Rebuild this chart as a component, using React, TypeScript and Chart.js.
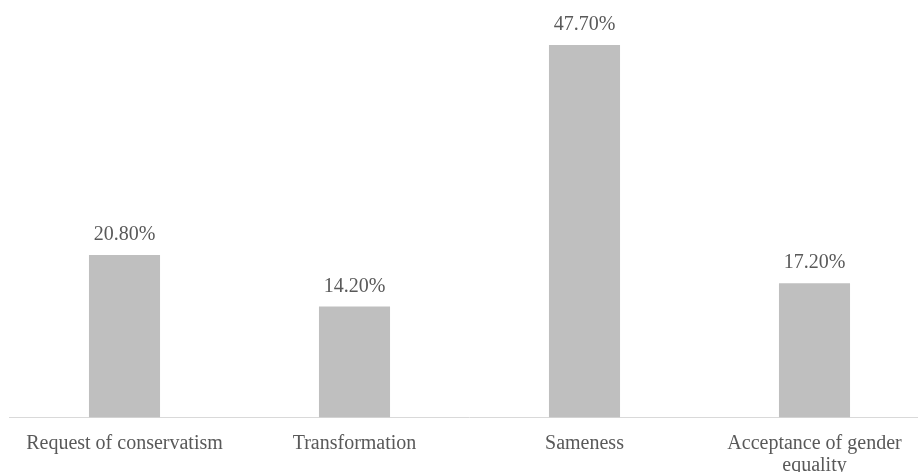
import React, { useEffect, useRef } from "react";
import { Chart, registerables } from "chart.js";

Chart.register(...registerables);

const categories: (string | string[])[] = [
  "Request of conservatism",
  "Transformation",
  "Sameness",
  ["Acceptance of gender", "equality"],
];
const values: number[] = [20.8, 14.2, 47.7, 17.2];
const valueLabels: string[] = ["20.80%", "14.20%", "47.70%", "17.20%"];

const FONT = "'Liberation Serif', 'Times New Roman', serif";

const dataLabelPlugin = {
  id: "dataLabels",
  afterDatasetsDraw(chart: any) {
    const ctx = chart.ctx;
    const meta = chart.getDatasetMeta(0);
    ctx.save();
    ctx.font = `20px ${FONT}`;
    ctx.fillStyle = "#595959";
    ctx.textAlign = "center";
    ctx.textBaseline = "middle";
    meta.data.forEach((bar: any, i: number) => {
      ctx.fillText(valueLabels[i], bar.x, bar.y - 20);
    });
    ctx.restore();
  },
};

export default function App() {
  const ref = useRef<HTMLCanvasElement | null>(null);
  useEffect(() => {
    if (!ref.current) return;
    const chart = new Chart(ref.current, {
      type: "bar",
      data: {
        labels: categories,
        datasets: [
          {
            data: values,
            backgroundColor: "#bfbfbf",
            borderWidth: 0,
            categoryPercentage: 1,
            barPercentage: 0.309,
          },
        ],
      },
      options: {
        animation: false,
        responsive: false,
        maintainAspectRatio: false,
        layout: { padding: { top: 27, left: 9.5, right: 10.5, bottom: 0 } },
        plugins: {
          legend: { display: false },
          tooltip: { enabled: false },
        },
        scales: {
          y: { display: false, min: 0, max: 50 },
          x: {
            grid: { display: false, drawTicks: false },
            border: { display: true, color: "#d9d9d9", width: 1 },
            ticks: {
              color: "#595959",
              font: { family: FONT, size: 20, lineHeight: 1.1 },
              padding: 15,
              maxRotation: 0,
              autoSkip: false,
            },
            afterFit(scale: any) {
              scale.height = 54.5;
            },
          },
        },
      },
      plugins: [dataLabelPlugin],
    });
    return () => chart.destroy();
  }, []);
  return (
    <div
      style={{
        position: "fixed",
        left: 0,
        top: 0,
        width: 918,
        height: 472,
        overflow: "hidden",
        background: "#fff",
      }}
    >
      <canvas ref={ref} width={940} height={472} style={{ display: "block" }} />
    </div>
  );
}
